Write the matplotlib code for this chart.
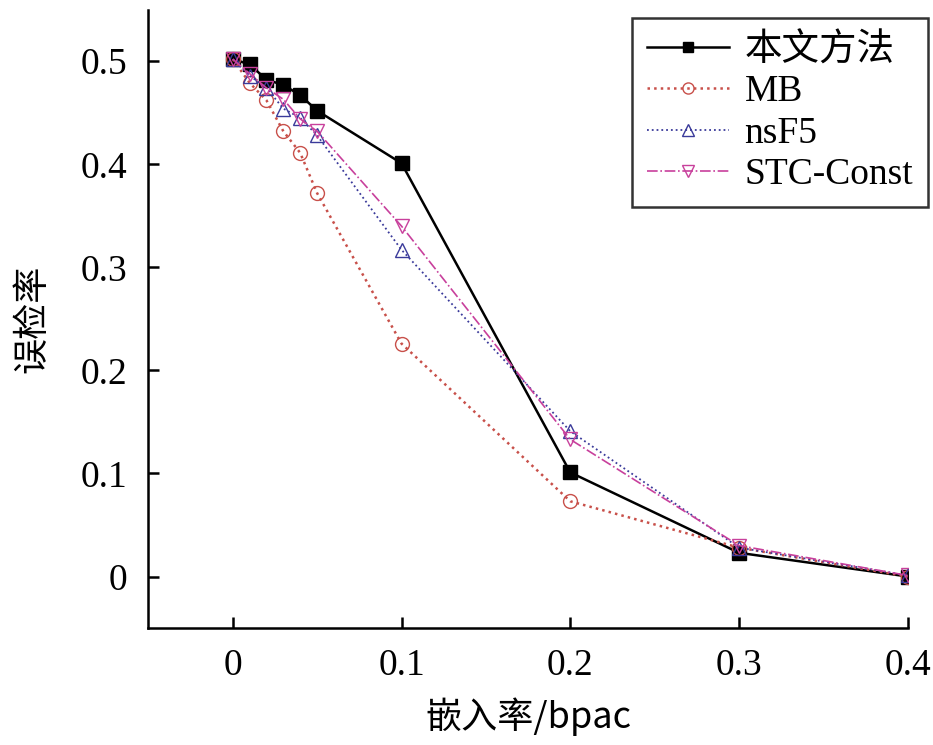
import matplotlib
matplotlib.use("Agg")
import matplotlib.pyplot as plt

plt.rcParams['font.family'] = ['Liberation Serif', 'Noto Sans CJK SC', 'DejaVu Sans']

# embedding rate (bpac)
rates = [0, 0.01, 0.02, 0.03, 0.04, 0.05, 0.1, 0.2, 0.3, 0.4]

# detection error rate per method
ours = [0.502, 0.497, 0.482, 0.477, 0.467, 0.452, 0.401, 0.101, 0.023, 0.0]
mb = [0.502, 0.479, 0.462, 0.432, 0.411, 0.372, 0.226, 0.073, 0.028, 0.0]
nsf5 = [0.502, 0.486, 0.474, 0.454, 0.445, 0.428, 0.317, 0.141, 0.028, 0.001]
stc = [0.502, 0.488, 0.474, 0.463, 0.444, 0.432, 0.340, 0.133, 0.030, 0.001]

labels = ["本文方法", "MB", "nsF5", "STC-Const"]
xticks = [0, 0.1, 0.2, 0.3, 0.4]
yticks = [0, 0.1, 0.2, 0.3, 0.4, 0.5]

fig = plt.figure(figsize=(9.33, 7.45), dpi=100)
ax = fig.add_axes([0.159, 0.157, 0.814, 0.83])

ax.plot(rates, ours, color="black", linestyle="-", linewidth=1.8,
        marker="s", markersize=9.5, label=labels[0])
ax.plot(rates, mb, color="#c8504a", linestyle=":", linewidth=1.8,
        marker="o", markersize=10, markerfacecolor="none", label=labels[1])
ax.plot(rates, nsf5, color="#3a3a9a", linestyle=":", linewidth=1.3,
        marker="^", markersize=10.5, markerfacecolor="none", label=labels[2])
ax.plot(rates, stc, color="#c8409c", linestyle="-.", linewidth=1.2,
        marker="v", markersize=10.5, markerfacecolor="none", label=labels[3])

ax.set_xlim(-0.05, 0.4)
ax.set_ylim(-0.05, 0.55)
ax.set_xticks(xticks)
ax.set_xticklabels(["0", "0.1", "0.2", "0.3", "0.4"])
ax.set_yticks(yticks)
ax.set_yticklabels(["0", "0.1", "0.2", "0.3", "0.4", "0.5"])
ax.tick_params(direction="in", length=8, width=1.8, labelsize=27, pad=15)

ax.spines["top"].set_visible(False)
ax.spines["right"].set_visible(False)
ax.spines["left"].set_linewidth(1.8)
ax.spines["bottom"].set_linewidth(1.8)

cjk = ['Noto Sans CJK SC', 'Liberation Serif']
ax.set_xlabel("嵌入率/bpac", fontsize=26, family=cjk, labelpad=10)
ax.set_ylabel("误检率", fontsize=26, family=cjk, labelpad=22)

leg = ax.legend(loc="upper right", bbox_to_anchor=(928 / 933, 1 - 18 / 745),
                bbox_transform=fig.transFigure, borderaxespad=0,
                frameon=True, fancybox=False, edgecolor="black",
                handlelength=2.2, handletextpad=0.4, borderpad=0.4,
                labelspacing=0.18, markerscale=0.8,
                prop={'family': ['Liberation Serif', 'Noto Sans CJK SC'], 'size': 27})
leg.get_frame().set_linewidth(1.8)

fig.savefig("out.png", dpi=100)
